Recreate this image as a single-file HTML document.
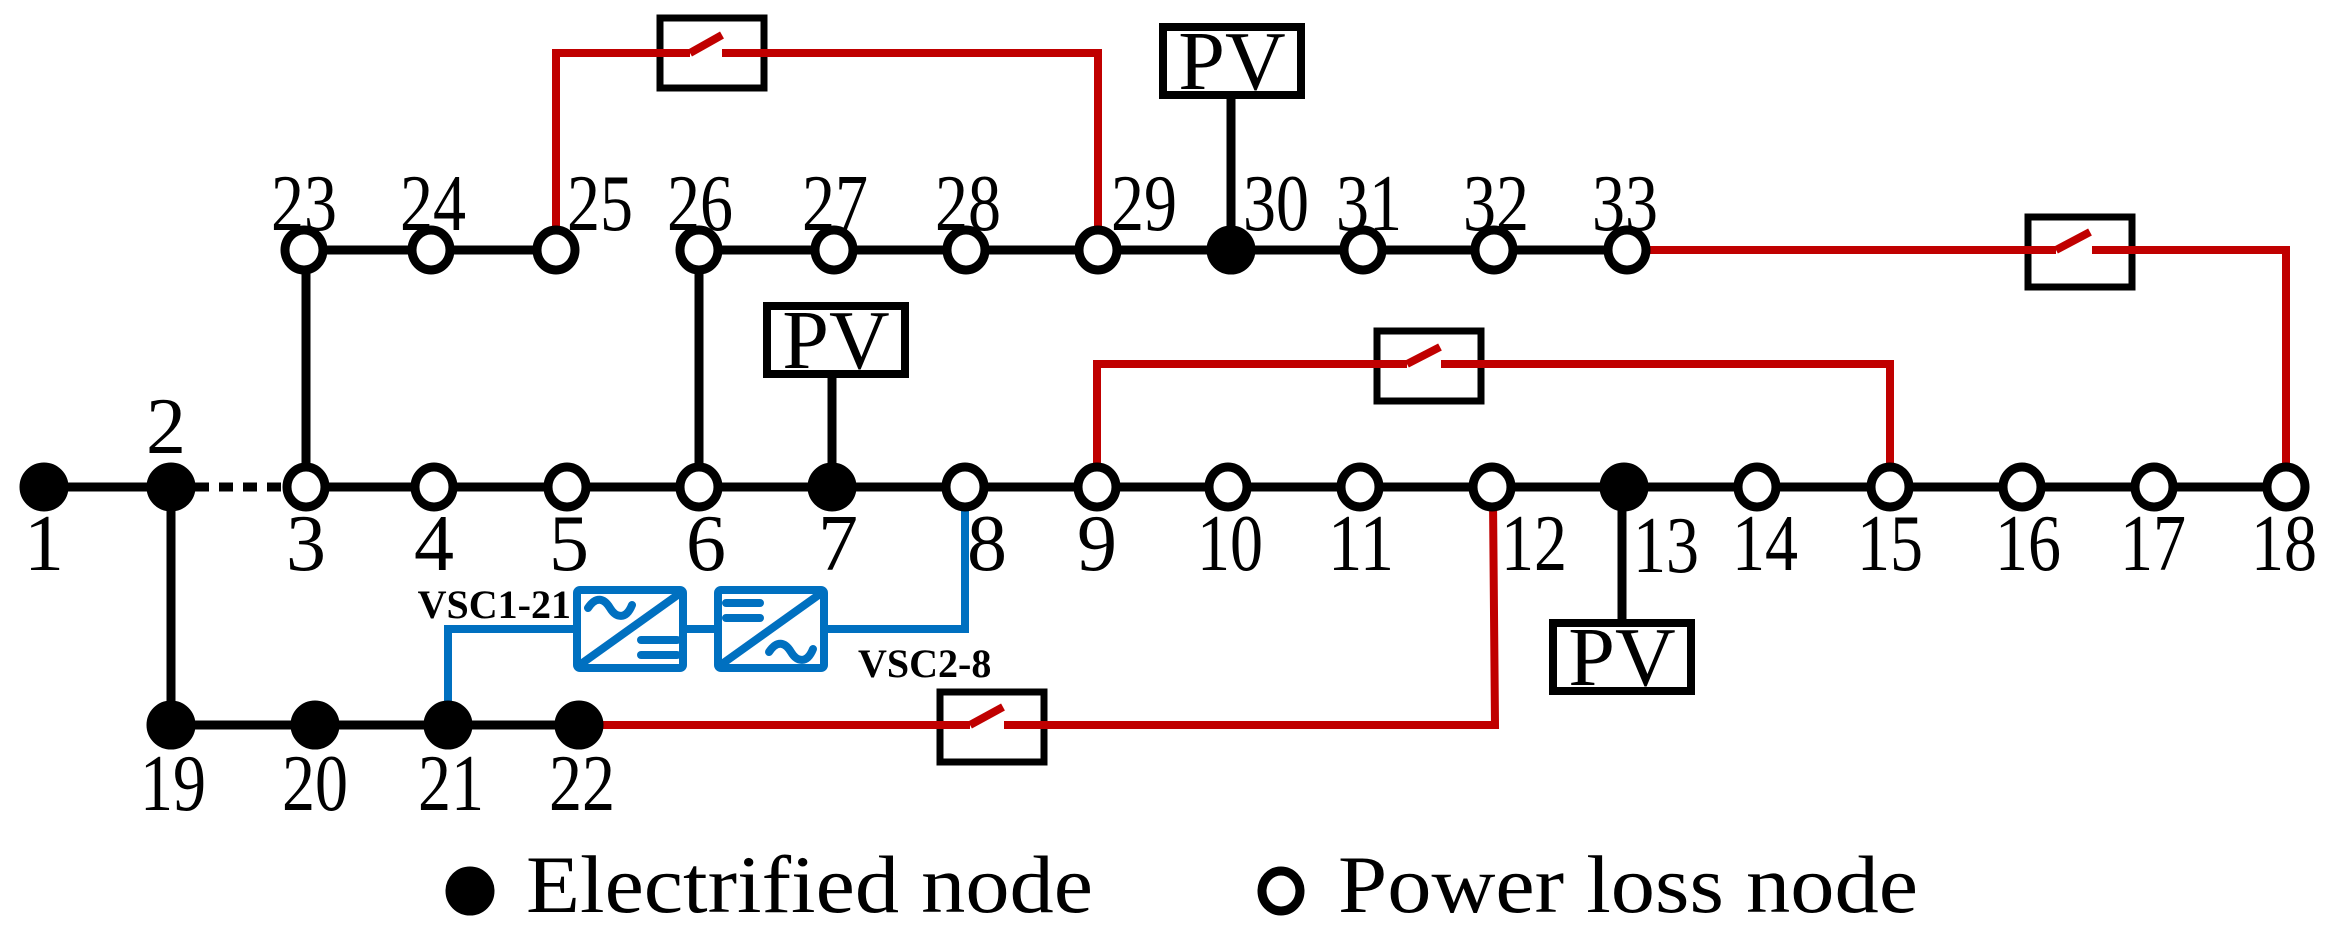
<!DOCTYPE html>
<html><head><meta charset="utf-8"><style>html,body{margin:0;padding:0;background:#fff}svg{display:block}</style></head>
<body>
<svg width="2338" height="943" viewBox="0 0 2338 943" xmlns="http://www.w3.org/2000/svg" font-family="Liberation Serif, serif">
<g stroke="#000" stroke-width="9" fill="none">
<line x1="44" y1="487" x2="171" y2="487"/>
<line x1="171" y1="487" x2="306" y2="487" stroke-dasharray="14,10"/>
<line x1="306" y1="487" x2="2286" y2="487"/>
<line x1="304" y1="250" x2="556" y2="250"/>
<line x1="699" y1="250" x2="1627" y2="250"/>
<line x1="171" y1="725" x2="579" y2="725"/>
<line x1="171" y1="487" x2="171" y2="725"/>
<line x1="306" y1="250" x2="306" y2="487"/>
<line x1="699" y1="250" x2="699" y2="487"/>
<line x1="832" y1="375" x2="832" y2="487"/>
<line x1="1231" y1="96" x2="1231" y2="250"/>
<line x1="1622" y1="487" x2="1622" y2="620"/>
<g stroke-width="8">
<rect x="767" y="306" width="138" height="68"/>
<rect x="1163" y="27" width="138" height="68"/>
<rect x="1553" y="623" width="138" height="68"/>
</g>
<g stroke-width="7">
<rect x="660" y="18" width="104" height="70"/>
<rect x="2028" y="217" width="104" height="70"/>
<rect x="1377" y="331" width="104" height="70"/>
<rect x="940" y="692" width="104" height="70"/>
</g>
</g>
<g stroke="#c00000" stroke-width="8" fill="none">
<polyline points="556,250 556,53 690,53"/><line x1="690" y1="53" x2="722" y2="35"/><polyline points="722,53 1098,53 1098,250"/>
<polyline points="1627,250 2056,250"/><line x1="2056" y1="250" x2="2090" y2="232"/><polyline points="2092,250 2286,250 2286,487"/>
<polyline points="1097,487 1097,364 1407,364"/><line x1="1407" y1="364" x2="1440" y2="347"/><polyline points="1441,364 1890,364 1890,487"/>
<polyline points="579,725 970,725"/><line x1="970" y1="725" x2="1003" y2="707"/><polyline points="1004,725 1495,725 1493,500"/>
</g>
<g stroke="#0070c0" stroke-width="8" fill="none" stroke-linecap="round">
<polyline points="448,725 448,629 573,629"/>
<line x1="686" y1="629" x2="714" y2="629"/>
<polyline points="827,629 965,629 965,505"/>
<rect x="577" y="590" width="106" height="78" rx="3"/>
<line x1="581" y1="664" x2="679" y2="594"/>
<path d="M588,608 C596,596 604,598 610,608 C616,618 626,620 632,605"/>
<line x1="641" y1="640" x2="677" y2="640"/><line x1="641" y1="655" x2="677" y2="655"/>
<rect x="718" y="590" width="106" height="78" rx="3"/>
<line x1="722" y1="664" x2="820" y2="594"/>
<line x1="726" y1="603" x2="760" y2="603"/><line x1="726" y1="618" x2="760" y2="618"/>
<path d="M769,652 C777,640 785,642 791,652 C797,662 807,664 813,649"/>
</g>
<g stroke="#000" stroke-width="9">
<g fill="#000">
<ellipse cx="44" cy="487" rx="20" ry="20"/><ellipse cx="171" cy="487" rx="20" ry="20"/><ellipse cx="832" cy="487" rx="20" ry="20"/><ellipse cx="1624" cy="487" rx="20" ry="20"/><ellipse cx="1231" cy="250" rx="20" ry="20"/>
<ellipse cx="171" cy="725" rx="20" ry="20"/><ellipse cx="315" cy="725" rx="20" ry="20"/><ellipse cx="448" cy="725" rx="20" ry="20"/><ellipse cx="579" cy="725" rx="20" ry="20"/>
<ellipse cx="470" cy="891" rx="20" ry="20"/>
</g>
<g fill="#fff">
<ellipse cx="306" cy="487" rx="19" ry="20"/><ellipse cx="434" cy="487" rx="19" ry="20"/><ellipse cx="567" cy="487" rx="19" ry="20"/><ellipse cx="699" cy="487" rx="19" ry="20"/><ellipse cx="965" cy="487" rx="19" ry="20"/><ellipse cx="1097" cy="487" rx="19" ry="20"/><ellipse cx="1228" cy="487" rx="19" ry="20"/><ellipse cx="1360" cy="487" rx="19" ry="20"/><ellipse cx="1492" cy="487" rx="19" ry="20"/><ellipse cx="1757" cy="487" rx="19" ry="20"/><ellipse cx="1890" cy="487" rx="19" ry="20"/><ellipse cx="2022" cy="487" rx="19" ry="20"/><ellipse cx="2154" cy="487" rx="19" ry="20"/><ellipse cx="2286" cy="487" rx="19" ry="20"/>
<ellipse cx="304" cy="250" rx="19" ry="20"/><ellipse cx="431" cy="250" rx="19" ry="20"/><ellipse cx="556" cy="250" rx="19" ry="20"/><ellipse cx="699" cy="250" rx="19" ry="20"/><ellipse cx="834" cy="250" rx="19" ry="20"/><ellipse cx="966" cy="250" rx="19" ry="20"/><ellipse cx="1098" cy="250" rx="19" ry="20"/><ellipse cx="1363" cy="250" rx="19" ry="20"/><ellipse cx="1494" cy="250" rx="19" ry="20"/><ellipse cx="1627" cy="250" rx="19" ry="20"/>
<ellipse cx="1281" cy="891" rx="19" ry="20"/>
</g>
</g>
<g font-size="80" text-anchor="middle" fill="#000" lengthAdjust="spacingAndGlyphs">
<text x="44" y="570">1</text><text x="166" y="453">2</text><text x="306" y="570">3</text><text x="434" y="570">4</text><text x="569" y="570">5</text><text x="706" y="570">6</text><text x="838" y="570">7</text><text x="987" y="570">8</text><text x="1097" y="570">9</text>
<text x="1230" y="570" textLength="66" lengthAdjust="spacingAndGlyphs">10</text><text x="1361" y="570" textLength="66" lengthAdjust="spacingAndGlyphs">11</text><text x="1534" y="570" textLength="66" lengthAdjust="spacingAndGlyphs">12</text><text x="1666" y="572" textLength="66" lengthAdjust="spacingAndGlyphs">13</text><text x="1765" y="570" textLength="66" lengthAdjust="spacingAndGlyphs">14</text><text x="1890" y="570" textLength="66" lengthAdjust="spacingAndGlyphs">15</text><text x="2028" y="570" textLength="66" lengthAdjust="spacingAndGlyphs">16</text><text x="2153" y="570" textLength="66" lengthAdjust="spacingAndGlyphs">17</text><text x="2284" y="570" textLength="66" lengthAdjust="spacingAndGlyphs">18</text>
<text x="304" y="230" textLength="66" lengthAdjust="spacingAndGlyphs">23</text><text x="433" y="230" textLength="66" lengthAdjust="spacingAndGlyphs">24</text><text x="600" y="230" textLength="66" lengthAdjust="spacingAndGlyphs">25</text><text x="700" y="230" textLength="66" lengthAdjust="spacingAndGlyphs">26</text><text x="835" y="230" textLength="66" lengthAdjust="spacingAndGlyphs">27</text><text x="968" y="230" textLength="66" lengthAdjust="spacingAndGlyphs">28</text><text x="1144" y="230" textLength="66" lengthAdjust="spacingAndGlyphs">29</text><text x="1276" y="230" textLength="66" lengthAdjust="spacingAndGlyphs">30</text><text x="1369" y="230" textLength="66" lengthAdjust="spacingAndGlyphs">31</text><text x="1496" y="230" textLength="66" lengthAdjust="spacingAndGlyphs">32</text><text x="1625" y="230" textLength="66" lengthAdjust="spacingAndGlyphs">33</text>
<text x="173" y="810" textLength="66" lengthAdjust="spacingAndGlyphs">19</text><text x="315" y="810" textLength="66" lengthAdjust="spacingAndGlyphs">20</text><text x="451" y="810" textLength="66" lengthAdjust="spacingAndGlyphs">21</text><text x="582" y="810" textLength="66" lengthAdjust="spacingAndGlyphs">22</text>
<text x="836" y="368" font-size="84">PV</text><text x="1232" y="89" font-size="84">PV</text><text x="1622" y="685" font-size="84">PV</text>
</g>
<g font-size="40" font-weight="bold" fill="#000">
<text x="571" y="618" text-anchor="end">VSC1-21</text>
<text x="858" y="677">VSC2-8</text>
</g>
<g font-size="82" fill="#000">
<text x="526" y="912" textLength="567" lengthAdjust="spacingAndGlyphs">Electrified node</text>
<text x="1338" y="912" textLength="580" lengthAdjust="spacingAndGlyphs">Power loss node</text>
</g>
</svg>
</body></html>
